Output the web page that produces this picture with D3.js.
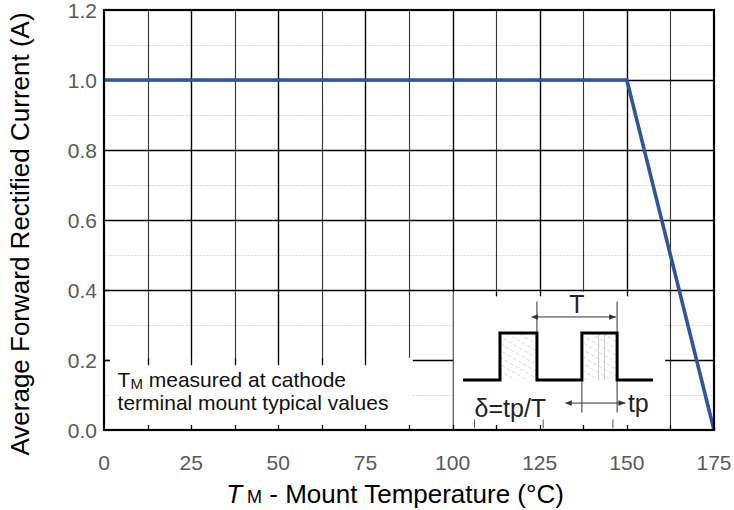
<!DOCTYPE html>
<html>
<head>
<meta charset="utf-8">
<script src="https://cdn.jsdelivr.net/npm/d3@7"></script>
<style>
  html, body { margin: 0; padding: 0; background: #fff; }
  svg { display: block; font-family: "Liberation Sans", Arial, sans-serif; }
</style>
</head>
<body>
<svg id="chart" width="734" height="510"></svg>
<script>
/*** DATA ***/
const tempC    = [0, 150, 175];          // mount temperature (°C)
const currentA = [1.0, 1.0, 0.0];        // average forward rectified current (A)
const xTicks   = [0, 25, 50, 75, 100, 125, 150, 175];
const yTicks   = [0, 0.2, 0.4, 0.6, 0.8, 1.0, 1.2];

// pulse schematic in the inset, in axis units (x = °C, y = A)
const pulseX   = [103, 113.6, 113.6, 124.2, 124.2, 137.1, 137.1, 147.2, 147.2, 157.5];
const pulseY   = [0.143, 0.143, 0.277, 0.277, 0.143, 0.143, 0.277, 0.277, 0.143, 0.143];

/*** SCALES ***/
const x = d3.scaleLinear().domain([0, 175]).range([104, 714]);
const y = d3.scaleLinear().domain([0, 1.2]).range([430, 10]);

const svg = d3.select('#chart');
const defs = svg.append('defs');

const hatch = defs.append('pattern')
    .attr('id', 'hatch').attr('patternUnits', 'userSpaceOnUse')
    .attr('width', 6).attr('height', 6)
    .attr('patternTransform', 'rotate(-60)');
hatch.append('line').attr('x1', 0).attr('y1', 0).attr('x2', 0).attr('y2', 6)
    .attr('stroke', '#bbb').attr('stroke-width', 1).attr('stroke-dasharray', '3,2');

['arrowEnd', 'arrowStart'].forEach((id, i) => {
  defs.append('marker').attr('id', id)
      .attr('viewBox', '0 0 10 10').attr('refX', i ? 0 : 10).attr('refY', 5)
      .attr('markerWidth', 7).attr('markerHeight', 7)
      .attr('orient', 'auto-start-reverse')
    .append('path').attr('d', 'M0,1 L10,5 L0,9 Z').attr('fill', '#333');
});

/*** GRID ***/
const minorY = d3.range(0.1, 1.2, 0.2);
svg.append('g').selectAll('line').data(minorY).join('line')
    .attr('x1', x(0)).attr('x2', x(175))
    .attr('y1', d => y(d) + 0.5).attr('y2', d => y(d) + 0.5)
    .attr('stroke', '#dcdcdc').attr('stroke-width', 1.2).attr('stroke-dasharray', '2,1');

const vx = d3.range(12.5, 175, 12.5);
svg.append('g').selectAll('line').data(vx).join('line')
    .attr('x1', d => Math.round(x(d)) + 0.5).attr('x2', d => Math.round(x(d)) + 0.5)
    .attr('y1', y(1.2)).attr('y2', y(0))
    .attr('stroke', d => d % 25 === 0 ? '#000' : '#333')
    .attr('stroke-width', d => d % 25 === 0 ? 1.4 : 1.1);

svg.append('g').selectAll('line').data(yTicks.slice(1, -1)).join('line')
    .attr('x1', x(0)).attr('x2', x(175))
    .attr('y1', d => Math.round(y(d)) + 0.5).attr('y2', d => Math.round(y(d)) + 0.5)
    .attr('stroke', '#000').attr('stroke-width', 1.3);

/*** CURVE ***/
const line = d3.line().x(d => x(d[0])).y(d => y(d[1]));
svg.append('path')
    .datum(d3.zip(tempC, currentA))
    .attr('d', line)
    .attr('fill', 'none')
    .attr('stroke', '#2f559a')
    .attr('stroke-width', 3.6)
    .attr('stroke-linejoin', 'miter');

/*** INSET BOXES ***/
// left note box
svg.append('rect')
    .attr('x', x(1.7)).attr('y', y(0.206))
    .attr('width', x(88.6) - x(1.7)).attr('height', y(0) - y(0.206) - 1)
    .attr('fill', '#fff');
svg.append('g').selectAll('line').data(vx.filter(d => d <= 75)).join('line')
    .attr('x1', d => Math.round(x(d)) + 0.5).attr('x2', d => Math.round(x(d)) + 0.5)
    .attr('y1', y(0.206)).attr('y2', y(0.185))
    .attr('stroke', '#000').attr('stroke-width', 1.3);

// right pulse inset
svg.append('rect')
    .attr('x', x(100.3)).attr('y', y(0.395))
    .attr('width', x(161) - x(100.3)).attr('height', y(0) - y(0.395) - 1)
    .attr('fill', '#fff');
svg.append('g').selectAll('line').data([112.5, 125, 150]).join('line')
    .attr('x1', d => Math.round(x(d)) + 0.5).attr('x2', d => Math.round(x(d)) + 0.5)
    .attr('y1', y(0.395)).attr('y2', y(0.382))
    .attr('stroke', '#000').attr('stroke-width', 1.3);

/*** FRAME & INNER TICKS ***/
svg.append('g').selectAll('line').data(d3.range(12.5, 175, 12.5)).join('line')
    .attr('x1', d => Math.round(x(d)) + 0.5).attr('x2', d => Math.round(x(d)) + 0.5)
    .attr('y1', y(0)).attr('y2', y(0) - 5)
    .attr('stroke', '#000').attr('stroke-width', 1.3);
svg.append('g').selectAll('line').data([0.2, 0.4]).join('line')
    .attr('x1', x(0)).attr('x2', x(0) + 6)
    .attr('y1', d => Math.round(y(d)) + 0.5).attr('y2', d => Math.round(y(d)) + 0.5)
    .attr('stroke', '#000').attr('stroke-width', 1.3);

svg.append('rect')
    .attr('x', x(0)).attr('y', y(1.2))
    .attr('width', x(175) - x(0)).attr('height', y(0) - y(1.2))
    .attr('fill', 'none').attr('stroke', '#000').attr('stroke-width', 2.2);

/*** PULSE SCHEMATIC ***/
const pts = d3.zip(pulseX, pulseY);
[[1, 3], [5, 7]].forEach(([a, b]) => {
  svg.append('rect')
      .attr('x', x(pulseX[a])).attr('y', y(pulseY[a + 1]))
      .attr('width', x(pulseX[b + 1]) - x(pulseX[a]))
      .attr('height', y(pulseY[a]) - y(pulseY[a + 1]))
      .attr('fill', 'url(#hatch)');
});
// marker lines inside the second pulse
svg.append('g').selectAll('line').data([141.9, 143.6]).join('line')
    .attr('x1', d => x(d)).attr('x2', d => x(d))
    .attr('y1', y(0.277)).attr('y2', y(0.143))
    .attr('stroke', '#c8c8c8').attr('stroke-width', 1);

svg.append('path').datum(pts).attr('d', line)
    .attr('fill', 'none').attr('stroke', '#000').attr('stroke-width', 3);

// T dimension
svg.append('g').selectAll('line').data([124.2, 147.2]).join('line')
    .attr('x1', d => x(d)).attr('x2', d => x(d))
    .attr('y1', y(0.367)).attr('y2', y(0.28))
    .attr('stroke', '#333').attr('stroke-width', 1);
svg.append('line')
    .attr('x1', x(124.2) + 1).attr('x2', x(147.2) - 1)
    .attr('y1', y(0.323)).attr('y2', y(0.323))
    .attr('stroke', '#333').attr('stroke-width', 1)
    .attr('marker-start', 'url(#arrowStart)').attr('marker-end', 'url(#arrowEnd)');
svg.append('text').attr('x', x(135.7)).attr('y', y(0.335))
    .attr('text-anchor', 'middle').attr('font-size', 25).attr('fill', '#222').text('T');

// tp dimension
svg.append('g').selectAll('line').data([137.1, 147.2]).join('line')
    .attr('x1', d => x(d)).attr('x2', d => x(d))
    .attr('y1', y(0.14)).attr('y2', y(0.05))
    .attr('stroke', '#333').attr('stroke-width', 1);
svg.append('line')
    .attr('x1', x(134.2)).attr('x2', x(149.6))
    .attr('y1', y(0.077)).attr('y2', y(0.077))
    .attr('stroke', '#333').attr('stroke-width', 1)
    .attr('marker-start', 'url(#arrowStart)').attr('marker-end', 'url(#arrowEnd)');
svg.append('text').attr('x', x(150.3)).attr('y', y(0.052))
    .attr('font-size', 25).attr('fill', '#222').text('tp');
svg.append('text').attr('x', x(106.3)).attr('y', y(0.036))
    .attr('font-size', 25).attr('fill', '#222').text('δ=tp/T');
// small dashed guide marks near the bottom
svg.append('g').selectAll('line').data([106.3, 126, 146]).join('line')
    .attr('x1', d => x(d)).attr('x2', d => x(d))
    .attr('y1', y(0.03)).attr('y2', y(0.005))
    .attr('stroke', '#555').attr('stroke-width', 1);

/*** NOTE TEXT ***/
const l1 = svg.append('text').attr('x', x(3.9)).attr('y', y(0.123))
    .attr('font-size', 21).attr('fill', '#111');
l1.append('tspan').text('T');
l1.append('tspan').attr('font-size', 15).attr('baseline-shift', -2).text('M');
l1.append('tspan').text(' measured at cathode');
svg.append('text').attr('x', x(3.9)).attr('y', y(0.058))
    .attr('font-size', 21).attr('fill', '#111')
    .text('terminal mount typical values');

/*** TICK LABELS ***/
svg.append('g').selectAll('text').data(xTicks).join('text')
    .attr('x', d => x(d)).attr('y', 470)
    .attr('text-anchor', 'middle').attr('font-size', 21).attr('fill', '#595959')
    .text(d => d);
svg.append('g').selectAll('text').data(yTicks).join('text')
    .attr('x', 97).attr('y', d => y(d)).attr('dy', '0.36em')
    .attr('text-anchor', 'end').attr('font-size', 21).attr('fill', '#595959')
    .text(d => d3.format('.1f')(d));

/*** AXIS TITLES ***/
const xt = svg.append('text').attr('x', 395).attr('y', 503)
    .attr('text-anchor', 'middle').attr('font-size', 26).attr('fill', '#000');
xt.append('tspan').attr('font-style', 'italic').text('T');
xt.append('tspan').attr('font-size', 18).text(' M');
xt.append('tspan').text(' - Mount Temperature (°C)');

svg.append('text')
    .attr('transform', 'translate(29,234) rotate(-90)')
    .attr('text-anchor', 'middle').attr('font-size', 26).attr('fill', '#000')
    .text('Average Forward Rectified Current (A)');
</script>
</body>
</html>
